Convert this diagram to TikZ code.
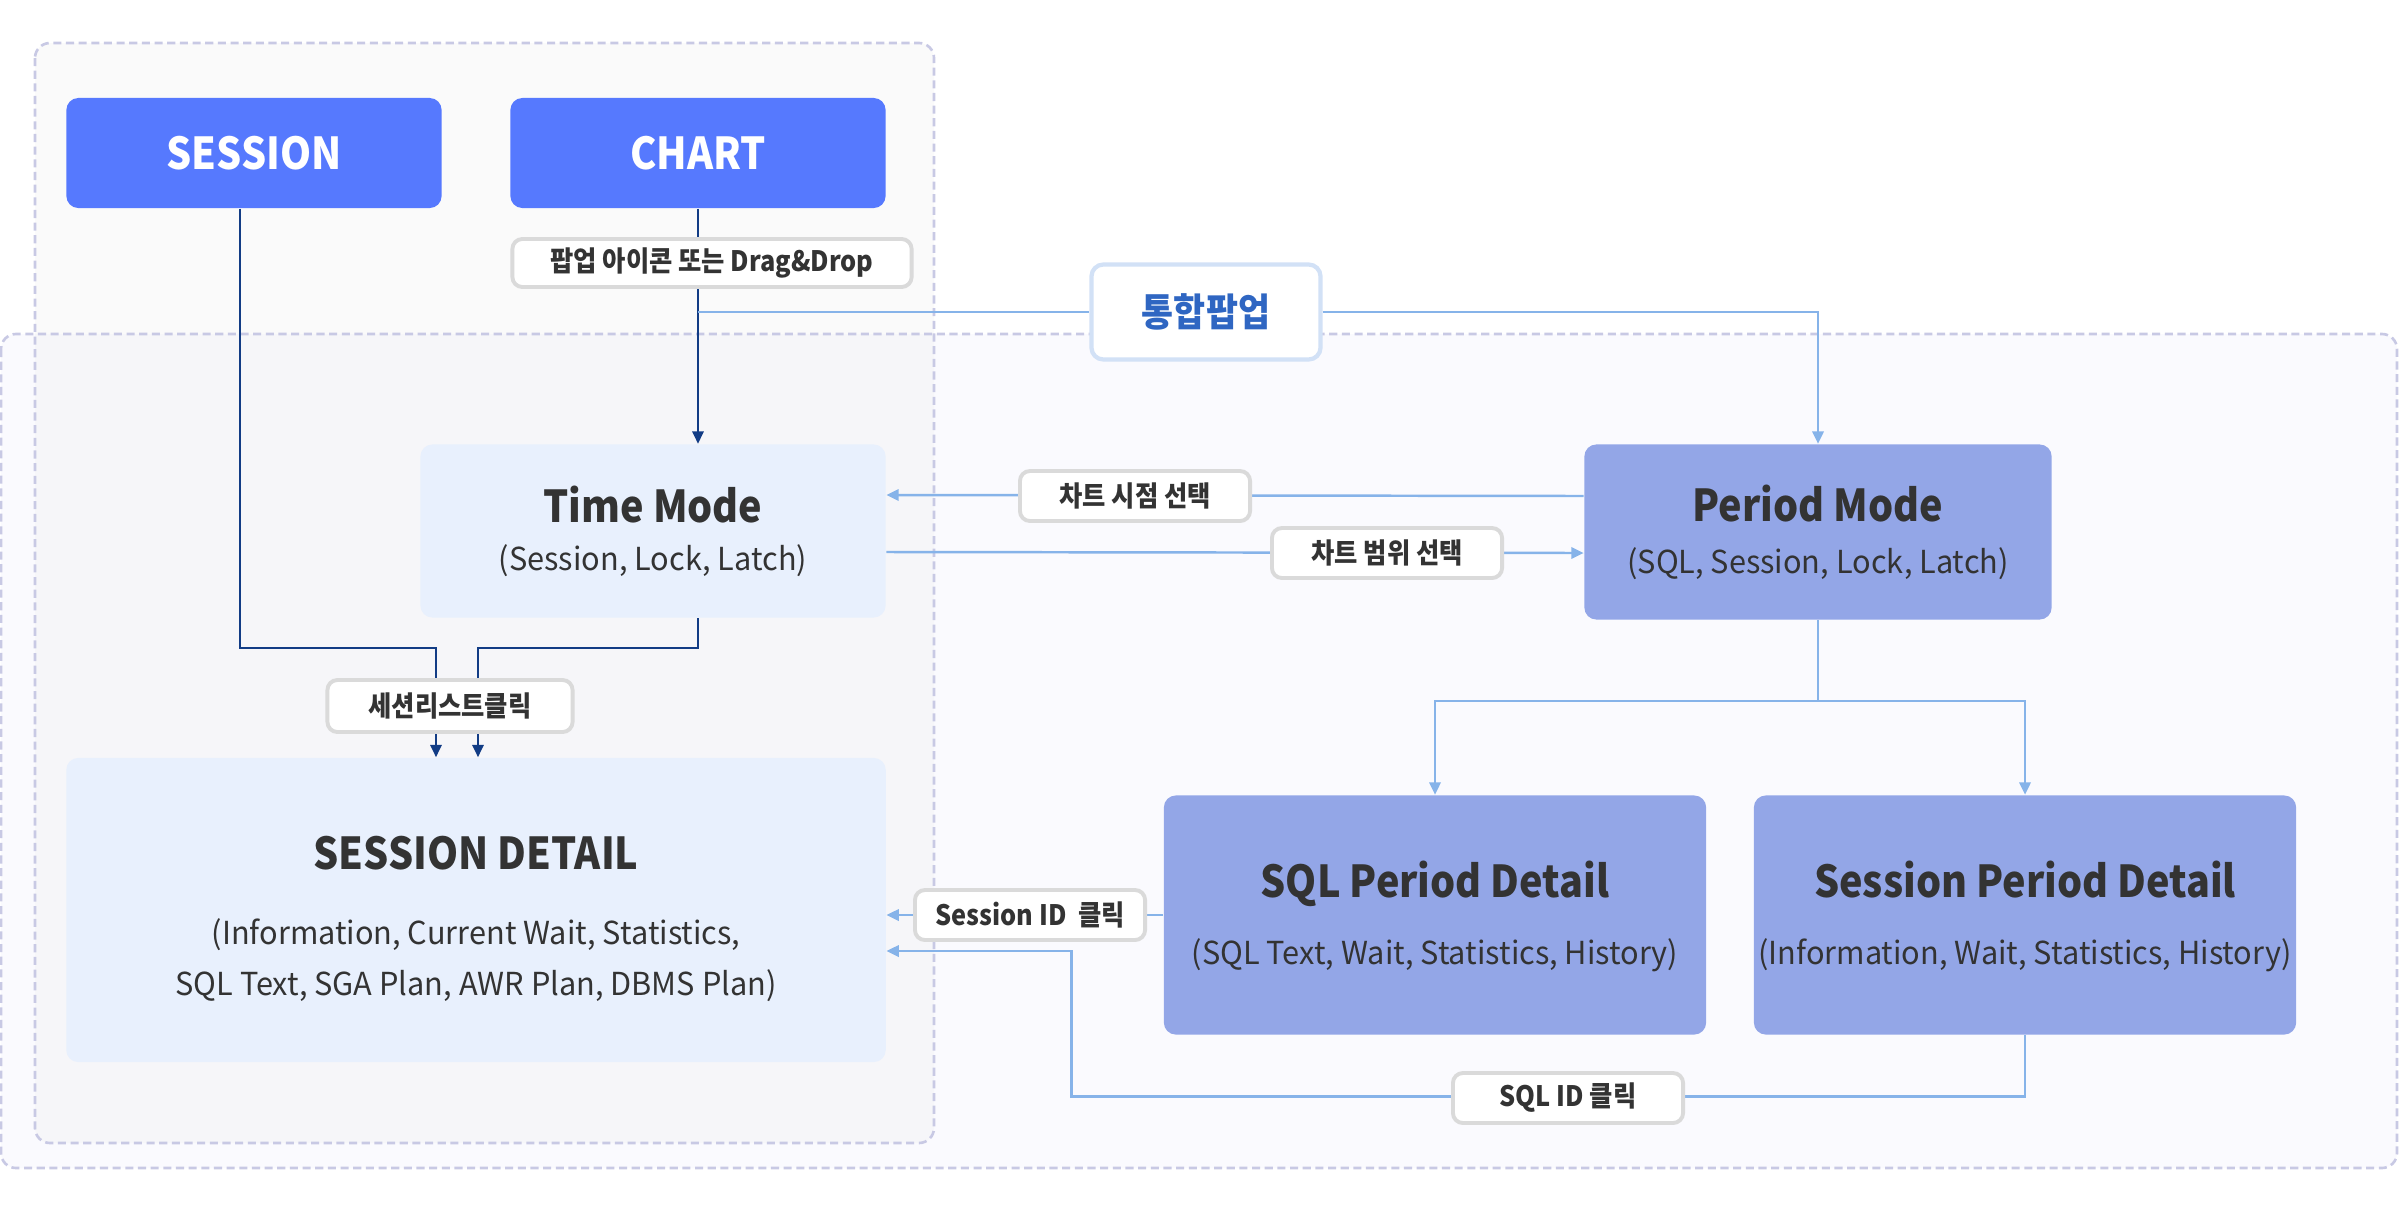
\documentclass[tikz,border=0pt]{standalone}
\usepackage{fontspec}
\setmainfont{Noto Sans CJK KR}[UprightFeatures={FakeStretch=0.97}, BoldFeatures={FakeStretch=0.9}]
\usetikzlibrary{arrows.meta,calc}
\definecolor{blu}{HTML}{5679FE}
\definecolor{per}{HTML}{93A6E7}
\definecolor{pale}{HTML}{E8F0FD}
\definecolor{ink}{HTML}{333333}
\definecolor{navy}{HTML}{123C85}
\definecolor{sky}{HTML}{86B3E9}
\definecolor{popblue}{HTML}{2F66C2}
\definecolor{dashc}{HTML}{C8C9E4}
\definecolor{tagline}{HTML}{DADADA}
\definecolor{popline}{HTML}{D2E1F6}
\definecolor{zoneA}{HTML}{F3F3F4}
\definecolor{zoneB}{HTML}{FAFAFE}
\newcommand{\ttl}[1]{{\fontsize{12.5}{13.7}\selectfont\bfseries #1}}

\begin{document}
\begin{tikzpicture}[x=0.01cm, y=-0.01cm]
\tikzstyle{box}=[rounded corners=0.12cm, align=center, inner sep=0pt, text=ink, font=\fontsize{9}{13.7}\selectfont]
\tikzstyle{tag}=[draw=tagline, line width=1.1pt, fill=white, rounded corners=0.1cm, minimum width=2.3cm, minimum height=0.5cm, inner sep=0pt, text=ink, font=\fontsize{8}{10}\selectfont\bfseries]
\tikzstyle{dk}=[navy, line width=0.6pt, -{Triangle[length=3.5pt,width=3.2pt]}]
\tikzstyle{lt}=[sky, line width=0.7pt, -{Triangle[length=3.5pt,width=3.2pt]}]
\tikzstyle{zone}=[draw=dashc, dash pattern=on 2.3pt off 1.3pt, line width=0.75pt, rounded corners=0.15cm]
\useasboundingbox (0,0) rectangle (2400,1212);
% zones
\fill[zoneB, rounded corners=0.15cm] (1,334) rectangle (2397,1168);
\fill[zoneA, fill opacity=0.45, rounded corners=0.15cm] (35,43) rectangle (934,1143);
\draw[zone] (35,43) rectangle (934,1143);
\draw[zone] (1,334) rectangle (2397,1168);
% boxes
\node[box, fill=blu, text=white, minimum width=3.75cm, minimum height=1.1cm, font=\fontsize{12.5}{14}\selectfont\bfseries] (s) at (254,153) {SESSION};
\node[box, fill=blu, text=white, minimum width=3.75cm, minimum height=1.1cm, font=\fontsize{12.5}{14}\selectfont\bfseries] (c) at (698,153) {CHART};
\node[box, fill=pale, minimum width=4.65cm, minimum height=1.73cm] (tm) at (653,531) {\ttl{Time Mode}\\(Session, Lock, Latch)};
\node[box, fill=per, minimum width=4.67cm, minimum height=1.75cm] (pm) at (1818,532) {\ttl{Period Mode}\\[1pt](SQL, Session, Lock, Latch)};
\node[box, fill=pale, minimum width=8.19cm, minimum height=3.04cm] (sd) at (476,910) {\ttl{\rule{0pt}{14.8pt}SESSION DETAIL}\\[7.6pt](Information, Current Wait, Statistics,\\[0.8pt]SQL Text, SGA Plan, AWR Plan, DBMS Plan)};
\node[box, fill=per, minimum width=5.42cm, minimum height=2.39cm] (qd) at (1435,915) {\ttl{\rule{0pt}{11pt}SQL Period Detail}\\[5.3pt](SQL Text, Wait, Statistics, History)};
\node[box, fill=per, minimum width=5.42cm, minimum height=2.39cm] (ed) at (2025,915) {\ttl{\rule{0pt}{11pt}Session Period Detail}\\[5.3pt](Information, Wait, Statistics, History)};
\node[box, draw=popline, line width=1.2pt, fill=white, minimum width=2.29cm, minimum height=0.95cm, text=popblue, font=\fontsize{11}{13}\selectfont\bfseries] (pop) at (1206,312) {통합팝업};
% links
\draw[dk] (c.south) -- (c.south |- tm.north);
\draw[lt, -] (c.south |- pop.west) -- (pop.west);
\draw[lt] (pop.east) -| (pm.north);
\draw[lt] ($(pm.west)+(0,-36)$) -- ($(tm.east)+(0,-36)$);
\draw[lt] ($(tm.east)+(0,21)$) -- ($(pm.west)+(0,21)$);
\draw[dk] ($(s.south)+(-14,0)$) |- ($(sd.north)+(-40,-109)$) -- ($(sd.north)+(-40,0)$);
\draw[dk] (tm.south -| c.south) |- ($(sd.north)+(2,-109)$) -- ($(sd.north)+(2,0)$);
\draw[lt] (pm.south) -- ++(0,81) -| (qd.north);
\draw[lt] (pm.south) ++(0,81) -| (ed.north);
\draw[lt] (qd.west) -- (qd.west -| sd.east);
\draw[lt] (ed.south) -- ++(0,61) -| ($(sd.east)+(185,41)$) -- ($(sd.east)+(0,41)$);
% tags
\node[tag, minimum width=3.99cm, minimum height=0.48cm] (t1) at (712,263) {팝업 아이콘 또는 Drag\&Drop};
\node[tag] (t2) at (1135,496) {차트 시점 선택};
\node[tag] (t3) at (1387,553) {차트 범위 선택};
\node[tag, minimum width=2.45cm, minimum height=0.52cm] (t4) at (450,706) {세션리스트클릭};
\node[tag] (t5) at (1030,915) {Session ID~ 클릭};
\node[tag] (t6) at (1568,1098) {SQL ID 클릭};
\end{tikzpicture}
\end{document}
